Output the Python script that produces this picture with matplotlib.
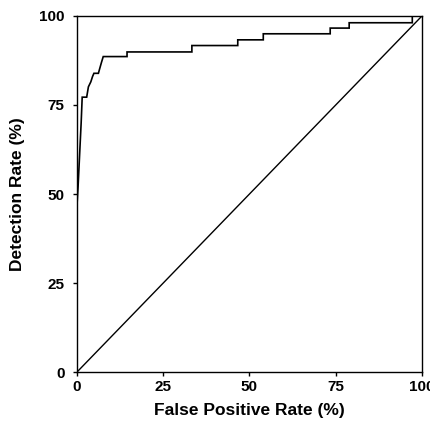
import matplotlib
matplotlib.use("Agg")
import matplotlib.pyplot as plt

# ROC curve vertices (percent)
fpr = [0, 0, 0.3, 0.8, 1.2, 1.5, 2.8, 3.3, 4.0, 4.5, 4.9, 6.2, 6.6, 7.1, 7.6,
       14.5, 14.5, 33.3, 33.3, 46.6, 46.6, 54.0, 54.0, 73.4, 73.4, 78.9, 78.9,
       97.2, 97.2, 100]
tpr = [0, 47, 52, 62, 70, 77.2, 77.2, 80.1, 81.5, 83.0, 83.9, 83.9, 85.3, 87.0, 88.6,
       88.6, 89.9, 89.9, 91.7, 91.7, 93.3, 93.3, 95.0, 95.0, 96.6, 96.6, 98.1,
       98.1, 100, 100]
chance = [0, 100]
ticks = [0, 25, 50, 75, 100]

plt.rcParams['font.family'] = ['Liberation Sans', 'DejaVu Sans']

fig = plt.figure(figsize=(4.31, 4.24), dpi=100)
ax = fig.add_axes([0.1787, 0.1226, 0.979 - 0.1787, 0.9623 - 0.1226])

ax.plot(fpr, tpr, color='black', lw=1.2, solid_joinstyle='miter')
ax.plot(chance, chance, color='black', lw=1.0)

ax.set_xlim(0, 100)
ax.set_ylim(0, 100)
ax.set_xticks(ticks)
ax.set_yticks(ticks)
ax.set_xticklabels([str(t) for t in ticks], fontweight='bold', fontsize=11)
ax.set_yticklabels([str(t) for t in ticks], fontweight='bold', fontsize=11)
ax.tick_params(direction='out', length=3, width=1, color='black')
ax.tick_params(axis='x', pad=3)
ax.tick_params(axis='y', pad=6)
for s in ax.spines.values():
    s.set_linewidth(1.0)
    s.set_color('black')

ax.set_xlabel('False Positive Rate (%)', fontweight='bold', fontsize=12.5, labelpad=6)
ax.set_ylabel('Detection Rate (%)', fontweight='bold', fontsize=12.5, labelpad=10)

fig.savefig('out.png', dpi=100, facecolor='white')
